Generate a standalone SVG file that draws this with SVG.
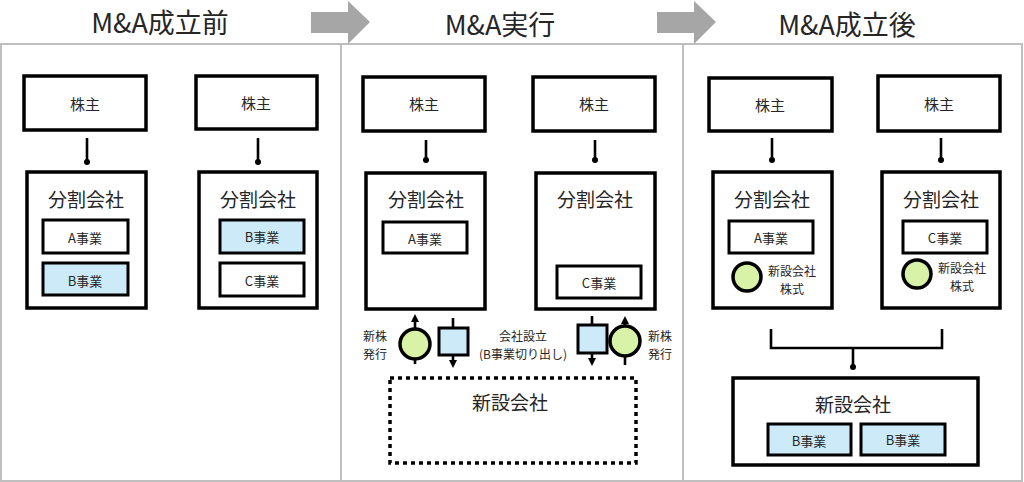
<svg xmlns="http://www.w3.org/2000/svg" width="1024" height="482" viewBox="0 0 1024 482">
<style>
.t{font-family:"Noto Sans CJK JP","Noto Sans",sans-serif;fill:#262626;text-anchor:middle;dominant-baseline:central}
.title{font-size:27px}
.h{font-size:19px}
.sh{font-size:15px}
.b{font-size:13px}
.s{font-size:12px}
.box{fill:#fff;stroke:#000;stroke-width:3.5}
.ibox{fill:#fff;stroke:#000;stroke-width:3}
.blue{fill:#cdeaf8;stroke:#000;stroke-width:3}
.green{fill:#d8f2a8;stroke:#000;stroke-width:3.5}
.ln{stroke:#000;stroke-width:2.6;fill:none}
.panel{fill:none;stroke:#bfbfbf;stroke-width:2}
</style>
<defs>
<marker id="ah" markerUnits="userSpaceOnUse" markerWidth="10" markerHeight="10" refX="5" refY="5" orient="auto">
<path d="M1,1 L9,5 L1,9 Z" fill="#000"/>
</marker>
</defs>
<rect width="1024" height="482" fill="#fff"/>
<g id="panels">
<rect class="panel" x="1" y="44" width="1021" height="437"/>
<line class="panel" x1="341" y1="44" x2="341" y2="481"/>
<line class="panel" x1="683" y1="44" x2="683" y2="481"/>
</g>
<g id="phase-arrows" fill="#a6a6a6">
<polygon points="311,12 348,12 348,1 370,22 348,44 348,33 311,33"/>
<polygon points="657,12 694,12 694,1 716,22 694,44 694,33 657,33"/>
</g>
<g id="titles">
<text class="t title" x="160" y="21">M&amp;A成立前</text>
<text class="t title" x="500" y="23">M&amp;A実行</text>
<text class="t title" x="847" y="23">M&amp;A成立後</text>
</g>
<g id="connectors">
<line class="ln" x1="87" y1="138" x2="87" y2="162"/><circle cx="87" cy="162" r="3"/>
<line class="ln" x1="258" y1="138" x2="258" y2="162"/><circle cx="258" cy="162" r="3"/>
<line class="ln" x1="426" y1="140" x2="426" y2="160"/><circle cx="426" cy="160" r="3"/>
<line class="ln" x1="595" y1="140" x2="595" y2="160"/><circle cx="595" cy="160" r="3"/>
<line class="ln" x1="772" y1="138" x2="772" y2="160"/><circle cx="772" cy="160" r="3"/>
<line class="ln" x1="941" y1="138" x2="941" y2="160"/><circle cx="941" cy="160" r="3"/>
<line class="ln" x1="415" y1="364" x2="415" y2="318" marker-end="url(#ah)"/>
<line class="ln" x1="453" y1="318" x2="453" y2="364" marker-end="url(#ah)"/>
<line class="ln" x1="592" y1="316" x2="592" y2="362" marker-end="url(#ah)"/>
<line class="ln" x1="625" y1="365" x2="625" y2="320" marker-end="url(#ah)"/>
<polyline class="ln" points="771,329 771,348 942,348 942,329"/>
<line class="ln" x1="853" y1="348" x2="853" y2="367"/><circle cx="853" cy="367" r="3"/>
</g>
<g id="p1-shareholder-a"><rect class="box" x="24" y="76" width="122" height="54"/><text class="t sh" x="85" y="103">株主</text></g>
<g id="p1-shareholder-b"><rect class="box" x="196" y="76" width="121" height="53"/><text class="t sh" x="256" y="102">株主</text></g>
<g id="p1-company-a"><rect class="box" x="27" y="172" width="119" height="136"/><text class="t h" x="86" y="198">分割会社</text>
<rect class="ibox" x="43" y="220" width="85" height="33"/><text class="t b" x="85" y="237">A事業</text>
<rect class="blue" x="43" y="263" width="85" height="32"/><text class="t b" x="85" y="280">B事業</text></g>
<g id="p1-company-b"><rect class="box" x="199" y="172" width="118" height="136"/><text class="t h" x="258" y="198">分割会社</text>
<rect class="blue" x="220" y="220" width="84" height="33"/><text class="t b" x="262" y="236">B事業</text>
<rect class="ibox" x="220" y="263" width="84" height="33"/><text class="t b" x="262" y="280">C事業</text></g>
<g id="p2-shareholder-a"><rect class="box" x="363" y="77" width="122" height="54"/><text class="t sh" x="424" y="103">株主</text></g>
<g id="p2-shareholder-b"><rect class="box" x="533" y="77" width="122" height="54"/><text class="t sh" x="594" y="103">株主</text></g>
<g id="p2-company-a"><rect class="box" x="366" y="173" width="119" height="136"/><text class="t h" x="426" y="198">分割会社</text>
<rect class="ibox" x="383" y="222" width="84" height="31"/><text class="t b" x="425" y="238">A事業</text></g>
<g id="p2-company-b"><rect class="box" x="536" y="173" width="119" height="136"/><text class="t h" x="595" y="198">分割会社</text>
<rect class="ibox" x="557" y="266" width="84" height="32"/><text class="t b" x="599" y="282">C事業</text></g>
<g id="p2-issue-left"><circle class="green" cx="415" cy="344" r="15"/><text class="t s" x="375" y="335">新株</text><text class="t s" x="375" y="353">発行</text></g>
<g id="p2-spin-left"><rect class="blue" x="439" y="328" width="29" height="27"/></g>
<g id="p2-spin-label"><text class="t s" x="523" y="335">会社設立</text><text class="t s" x="523" y="353">(B事業切り出し)</text></g>
<g id="p2-spin-right"><rect class="blue" x="578" y="325" width="29" height="28"/></g>
<g id="p2-issue-right"><circle class="green" cx="625" cy="341" r="15"/><text class="t s" x="660" y="335">新株</text><text class="t s" x="660" y="353">発行</text></g>
<g id="p2-newco"><rect x="390" y="378" width="246" height="85" fill="#fff" stroke="#000" stroke-width="3.5" stroke-dasharray="4 4"/><text class="t h" x="510" y="401">新設会社</text></g>
<g id="p3-shareholder-a"><rect class="box" x="709" y="78" width="123" height="53"/><text class="t sh" x="770" y="104">株主</text></g>
<g id="p3-shareholder-b"><rect class="box" x="878" y="76" width="122" height="55"/><text class="t sh" x="939" y="103">株主</text></g>
<g id="p3-company-a"><rect class="box" x="713" y="172" width="119" height="136"/><text class="t h" x="772" y="198">分割会社</text>
<rect class="ibox" x="729" y="221" width="84" height="32"/><text class="t b" x="771" y="237">A事業</text>
<circle class="green" cx="747" cy="277" r="14"/><text class="t s" x="792" y="270">新設会社</text><text class="t s" x="792" y="288">株式</text></g>
<g id="p3-company-b"><rect class="box" x="882" y="172" width="118" height="136"/><text class="t h" x="941" y="198">分割会社</text>
<rect class="ibox" x="903" y="221" width="84" height="32"/><text class="t b" x="945" y="237">C事業</text>
<circle class="green" cx="917" cy="274" r="14"/><text class="t s" x="962" y="267">新設会社</text><text class="t s" x="962" y="285">株式</text></g>
<g id="p3-newco"><rect class="box" x="733" y="378" width="245" height="87"/><text class="t h" x="853" y="403">新設会社</text>
<rect class="blue" x="768" y="424" width="83" height="31"/><text class="t b" x="809" y="440">B事業</text>
<rect class="blue" x="861" y="424" width="84" height="31"/><text class="t b" x="903" y="439">B事業</text></g>
</svg>
